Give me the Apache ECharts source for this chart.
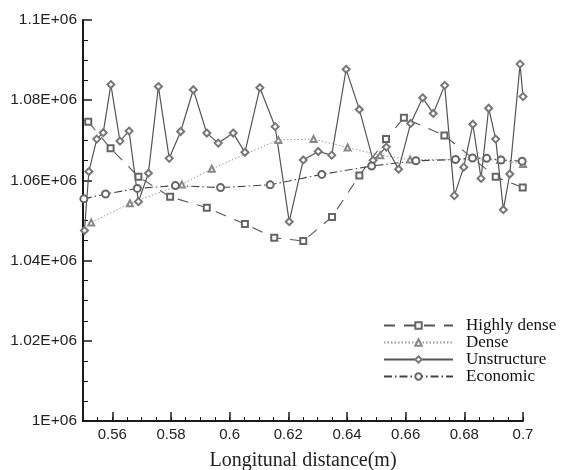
<!DOCTYPE html>
<html>
<head>
<meta charset="utf-8">
<script src="https://cdn.jsdelivr.net/npm/echarts@6/dist/echarts.min.js"></script>
<style>html,body{margin:0;padding:0;background:#fff}#c{width:564px;height:470px}</style>
</head>
<body>
<div id="c"></div>
<script>
// ---- Data ----
var seriesNames = ['Highly dense', 'Dense', 'Unstructure', 'Economic'];

var highlyDenseX = [0.5518, 0.5594, 0.5689, 0.5797, 0.5922, 0.6052, 0.6152, 0.6251, 0.6349, 0.6442, 0.6533, 0.6594, 0.6732, 0.6907, 0.6999];
var highlyDenseY = [1.0746e6, 1.0680e6, 1.0609e6, 1.0559e6, 1.0532e6, 1.0491e6, 1.0457e6, 1.0449e6, 1.0509e6, 1.0612e6, 1.0703e6, 1.0756e6, 1.0712e6, 1.0609e6, 1.0582e6];

var denseX = [0.5528, 0.5660, 0.5837, 0.5939, 0.6166, 0.6286, 0.6402, 0.6513, 0.6615, 0.6922, 0.7000];
var denseY = [1.0495e6, 1.0543e6, 1.0590e6, 1.0629e6, 1.0701e6, 1.0703e6, 1.0682e6, 1.0663e6, 1.0652e6, 1.0651e6, 1.0641e6];

var unstructureX = [0.5505, 0.5520, 0.5547, 0.5569, 0.5595, 0.5626, 0.5657, 0.5689, 0.5723, 0.5757, 0.5794, 0.5833, 0.5876, 0.5922, 0.5961, 0.6012, 0.6052, 0.6103, 0.6155, 0.6203, 0.6251, 0.6302, 0.6348, 0.6397, 0.6442, 0.6489, 0.6534, 0.6576, 0.6617, 0.6658, 0.6694, 0.6733, 0.6766, 0.6798, 0.6829, 0.6857, 0.6883, 0.6907, 0.6933, 0.6955, 0.6990, 0.7000];
var unstructureY = [1.0475e6, 1.0622e6, 1.0703e6, 1.0719e6, 1.0839e6, 1.0698e6, 1.0723e6, 1.0547e6, 1.0618e6, 1.0834e6, 1.0655e6, 1.0722e6, 1.0826e6, 1.0718e6, 1.0693e6, 1.0718e6, 1.0670e6, 1.0831e6, 1.0734e6, 1.0497e6, 1.0651e6, 1.0672e6, 1.0663e6, 1.0877e6, 1.0777e6, 1.0650e6, 1.0683e6, 1.0628e6, 1.0742e6, 1.0806e6, 1.0767e6, 1.0837e6, 1.0562e6, 1.0633e6, 1.0740e6, 1.0605e6, 1.0780e6, 1.0703e6, 1.0527e6, 1.0616e6, 1.0890e6, 1.0809e6];

var economicX = [0.5503, 0.5577, 0.5685, 0.5815, 0.5969, 0.6138, 0.6314, 0.6484, 0.6635, 0.6770, 0.6828, 0.6876, 0.6925, 0.6997];
var economicY = [1.0554e6, 1.0566e6, 1.0580e6, 1.0587e6, 1.0582e6, 1.0589e6, 1.0615e6, 1.0636e6, 1.0649e6, 1.0652e6, 1.0656e6, 1.0655e6, 1.0651e6, 1.0648e6];

var xTickLabels = [0.56, 0.58, 0.6, 0.62, 0.64, 0.66, 0.68, 0.7];
var yTickLabels = {1000000: '1E+06', 1020000: '1.02E+06', 1040000: '1.04E+06', 1060000: '1.06E+06', 1080000: '1.08E+06', 1100000: '1.1E+06'};

function pairs(xs, ys) { return xs.map(function (x, i) { return [x, ys[i]]; }); }

var axisCol = '#1a1a1a';
var chart = echarts.init(document.getElementById('c'), null, {renderer: 'canvas'});

chart.setOption({
  animation: false,
  backgroundColor: '#fff',
  grid: {left: 83, right: 41, top: 20, bottom: 49, containLabel: false, outerBoundsMode: 'none'},
  legend: {
    orient: 'vertical', left: 378, top: 312,
    itemWidth: 69, itemHeight: 8, itemGap: 0,
    textStyle: {fontFamily: 'Liberation Serif', fontSize: 17, lineHeight: 16, color: '#111', padding: [0, 0, 0, 8]},
    data: seriesNames
  },
  xAxis: [{
    type: 'value', min: 0.55, max: 0.7,
    name: 'Longitunal distance(m)', nameLocation: 'middle', nameGap: 30,
    nameTextStyle: {fontFamily: 'Liberation Serif', fontSize: 20, color: '#222'},
    axisLine: {lineStyle: {color: axisCol, width: 2}},
    axisTick: {inside: true, length: 9, lineStyle: {color: axisCol, width: 1.5}, customValues: xTickLabels},
    axisLabel: {customValues: xTickLabels, margin: 6, fontFamily: 'Liberation Sans', fontSize: 15, color: '#222',
      formatter: function (v) { return String(+v.toFixed(2)); }},
    splitLine: {show: false}
  }, {
    type: 'value', min: 0.55, max: 0.7, interval: 0.005, position: 'bottom',
    axisLine: {show: false},
    axisTick: {inside: true, length: 4, lineStyle: {color: axisCol, width: 1}},
    axisLabel: {show: false}, splitLine: {show: false}
  }],
  yAxis: {
    type: 'value', min: 1000000, max: 1100000, interval: 20000,
    name: '{c|C}{p|p}', nameLocation: 'middle', nameGap: 56,
    nameTextStyle: {rich: {
      c: {fontFamily: 'Liberation Sans', fontSize: 15, color: '#222'},
      p: {fontFamily: 'Liberation Sans', fontSize: 9, color: '#222', padding: [8, 0, 0, 0]}
    }},
    axisLine: {show: true, lineStyle: {color: axisCol, width: 2}},
    axisTick: {inside: true, length: 9, lineStyle: {color: axisCol, width: 1.5}},
    minorTick: {show: true, splitNumber: 4, length: 5, lineStyle: {color: axisCol, width: 1}},
    axisLabel: {margin: 6, fontFamily: 'Liberation Sans', fontSize: 15.5, color: '#222',
      formatter: function (v) { return yTickLabels[Math.round(v)] || ''; }},
    splitLine: {show: false}
  },
  series: [{
    name: 'Highly dense', type: 'line', data: pairs(highlyDenseX, highlyDenseY),
    symbol: 'emptyRect', symbolSize: 6, showSymbol: true,
    lineStyle: {color: '#555', width: 1.1, type: [11, 9]},
    itemStyle: {color: '#666', borderColor: '#666', borderWidth: 1}
  }, {
    name: 'Dense', type: 'line', data: pairs(denseX, denseY),
    symbol: 'emptyTriangle', symbolSize: 6,
    lineStyle: {color: '#9a9a9a', width: 1, type: [1.5, 2]},
    itemStyle: {color: '#888', borderColor: '#888', borderWidth: 1}
  }, {
    name: 'Unstructure', type: 'line', data: pairs(unstructureX, unstructureY),
    symbol: 'emptyDiamond', symbolSize: 7,
    lineStyle: {color: '#555', width: 1.2, type: 'solid'},
    itemStyle: {color: '#777', borderColor: '#777', borderWidth: 1}
  }, {
    name: 'Economic', type: 'line', data: pairs(economicX, economicY),
    symbol: 'emptyCircle', symbolSize: 7,
    lineStyle: {color: '#444', width: 1.1, type: [8, 3, 1.5, 3]},
    itemStyle: {color: '#666', borderColor: '#666', borderWidth: 1}
  }]
});
</script>
</body>
</html>
